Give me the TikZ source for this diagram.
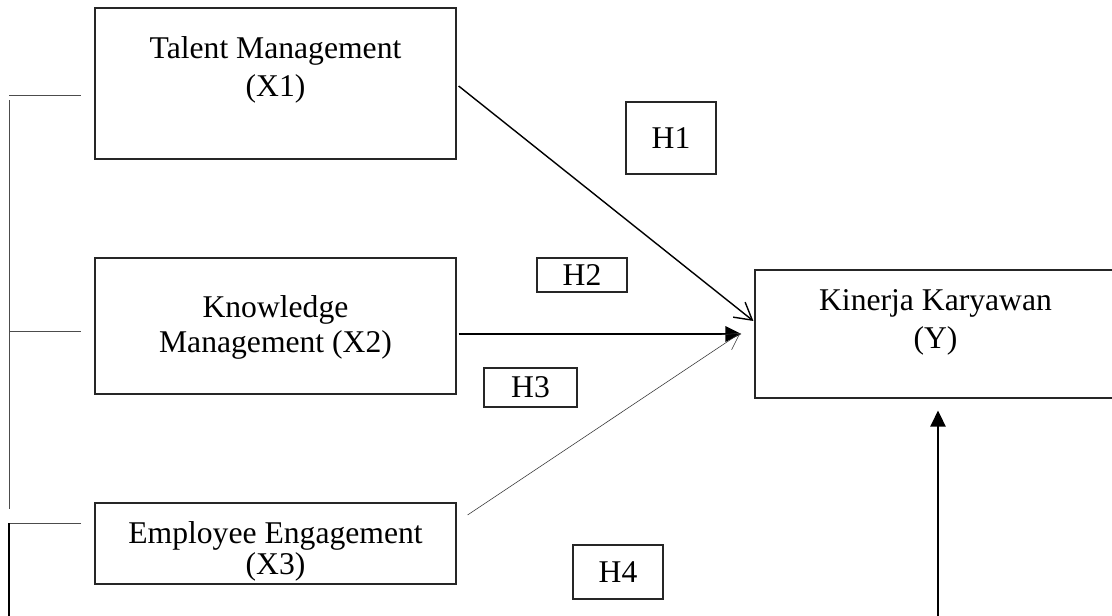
\documentclass[tikz,border=0pt]{standalone}
\usepackage{fontspec}
\setmainfont{Liberation Serif}
\usetikzlibrary{arrows.meta, positioning, calc}

\begin{document}
\begin{tikzpicture}[
    x=0.025cm, y=-0.025cm,
    every node/.style={font=\fontsize{22.5}{27}\selectfont},
    varbox/.style={draw=black!85, line width=0.8pt, minimum width=9.025cm, inner sep=0pt},
    hbox/.style={draw=black!85, line width=0.8pt, inner sep=0pt, minimum width=2.25cm},
    lbl/.style={align=center, inner sep=0pt},
    bracket/.style={draw=black!70, line width=0.7pt},
    barb/.style={-{Straight Barb[length=0.42cm, width=0.48cm]}, line width=1pt},
    thinbarb/.style={-{Straight Barb[length=0.4cm, width=0.45cm]}, line width=0.4pt, draw=black!80},
    solidtip/.style={-{Triangle[length=0.4cm, width=0.38cm]}, line width=1.8pt}
]
    \useasboundingbox (0,0) rectangle (1112,616);

    % variable boxes
    \node[varbox, minimum height=3.775cm] (x1) at (275.5,83.5) {};
    \node[varbox, minimum height=3.4cm] (x2) at (275.5,326) {};
    \node[varbox, minimum height=2.025cm] (x3) at (275.5,543.5) {};
    \node[varbox, minimum height=3.2cm] (ky) at (935.5,334) {};

    \node[lbl] (x1t) at ($(x1)+(0,-14)$) {Talent Management\\(X1)};
    \node[lbl] (x2t) at ($(x2)+(0,1.5)$) {Knowledge\\[-2pt]Management (X2)};
    \node[lbl] (x3t) at ($(x3)+(0,8)$) {Employee Engagement\\[-5.5pt](X3)};
    \node[lbl] (kyt) at ($(ky)+(0,-12)$) {Kinerja Karyawan\\(Y)};

    % hypothesis labels
    \node[hbox, minimum height=1.8cm] (h1) at (671,138) {H1};
    \node[hbox, minimum height=0.85cm] (h2) at (582,275) {H2};
    \node[hbox, minimum width=2.325cm, minimum height=0.975cm] (h3) at (530.5,387.5) {H3};
    \node[hbox, minimum height=1.35cm] (h4) at (618,572) {H4};

    % paths
    \draw[barb] ($(x1.east)+(2,2.5)$) -- ($(ky.west)+(-1,-13)$);
    \draw[solidtip] ($(x2.east)+(2,8)$) -- ($(ky.west)+(-13,0)$);
    \draw[thinbarb] ($(x3.east)+(11,-28.5)$) -- ($(ky.west)+(-14,-1)$);
    \coordinate (kybase) at (938,630);
    \draw[solidtip, line width=1.4pt] (kybase) -- ($(ky.south)+(2.5,12)$);

    % left bracket
    \draw[bracket] (9,95) -- (81,95);
    \draw[bracket] (9,100) -- (9,509);
    \draw[bracket] (9,331) -- (81,331);
    \draw[bracket] (81,523) -- (9,523);
    \draw[bracket, draw=black, line width=1.4pt] (9,523) -- (9,630);
\end{tikzpicture}
\end{document}
